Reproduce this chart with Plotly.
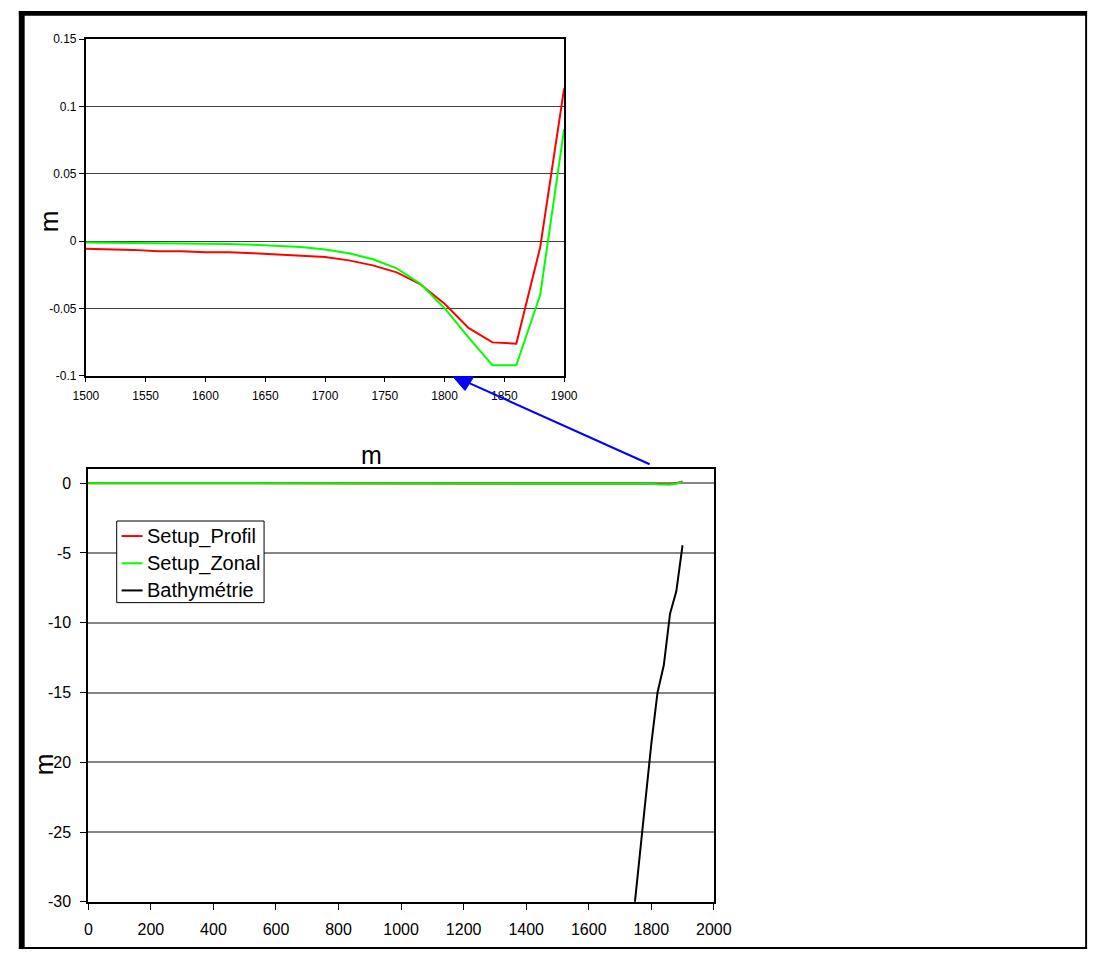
import plotly.graph_objects as go

W, H = 1108, 962

# ---------------- data ----------------
x_far = [0, 100, 200, 300, 400, 500, 600, 700, 800, 900, 1000, 1100, 1200, 1300, 1400]
profil_far = [-0.001, -0.001, -0.0012, -0.0013, -0.0015, -0.0017, -0.0018, -0.002,
              -0.0022, -0.0024, -0.0026, -0.0028, -0.003, -0.0033, -0.0036]
zonal_far = [-0.0002, -0.0002, -0.0002, -0.0003, -0.0003, -0.0003, -0.0004, -0.0004,
             -0.0004, -0.0005, -0.0005, -0.0006, -0.0006, -0.0007, -0.0008]

x_near = [1500, 1520, 1540, 1560, 1580, 1600, 1620, 1640, 1660, 1680, 1700,
          1720, 1740, 1760, 1780, 1800, 1820, 1840, 1860, 1880, 1900]
profil_near = [-0.0055, -0.0056, -0.0065, -0.0075, -0.0075, -0.0083, -0.0083, -0.009,
               -0.0098, -0.0106, -0.0118, -0.0143, -0.018, -0.0232, -0.0322, -0.0465,
               -0.0645, -0.0752, -0.0762, -0.0045, 0.1135]
zonal_near = [-0.0011, -0.0012, -0.0013, -0.0015, -0.0016, -0.0019, -0.0021, -0.0027,
              -0.0034, -0.0044, -0.0062, -0.009, -0.0135, -0.0202, -0.0318, -0.0498,
              -0.0715, -0.0922, -0.0922, -0.0398, 0.0832]

x_bathy = [1720, 1740, 1760, 1780, 1800, 1820, 1840, 1860, 1880, 1900]
bathy = [-36.0, -31.7, -27.4, -23.0, -18.7, -15.0, -13.05, -9.35, -7.75, -4.45]

top_xticks = [1500, 1550, 1600, 1650, 1700, 1750, 1800, 1850, 1900]
top_yticks = [-0.1, -0.05, 0, 0.05, 0.1, 0.15]
top_yticktext = ["-0.1", "-0.05", "0", "0.05", "0.1", "0.15"]
bot_xticks = [0, 200, 400, 600, 800, 1000, 1200, 1400, 1600, 1800, 2000]
bot_yticks = [-30, -25, -20, -15, -10, -5, 0]
bot_yticktext = ["-30", "-25", "-20", "-15", "-10", "-5", "0"]

names = ["Setup_Profil", "Setup_Zonal", "Bathymétrie"]
colors = ["#FF0000", "#00FF00", "#000000"]

FONT = "Liberation Sans, Arial, sans-serif"


def px(x):
    return x / W


def py(y):
    return 1 - y / H


x_all = x_far + x_near
profil_all = profil_far + profil_near
zonal_all = zonal_far + zonal_near

fig = go.Figure()

# top (zoom) chart
fig.add_trace(go.Scatter(x=x_all, y=profil_all, mode="lines", line=dict(color=colors[0], width=2),
                         xaxis="x", yaxis="y", showlegend=False, name=names[0]))
fig.add_trace(go.Scatter(x=x_all, y=zonal_all, mode="lines", line=dict(color=colors[1], width=2),
                         xaxis="x", yaxis="y", showlegend=False, name=names[1]))

# bottom chart
fig.add_trace(go.Scatter(x=x_all, y=profil_all, mode="lines", line=dict(color=colors[0], width=2),
                         xaxis="x2", yaxis="y2", showlegend=False, name=names[0]))
fig.add_trace(go.Scatter(x=x_all, y=zonal_all, mode="lines", line=dict(color=colors[1], width=2),
                         xaxis="x2", yaxis="y2", showlegend=False, name=names[1]))
fig.add_trace(go.Scatter(x=x_bathy, y=bathy, mode="lines", line=dict(color=colors[2], width=2),
                         xaxis="x2", yaxis="y2", showlegend=False, name=names[2]))

axis_common = dict(showline=True, linecolor="black", linewidth=2, mirror=True,
                   ticks="outside", tickcolor="black", zeroline=False)

fig.update_layout(
    width=W, height=H,
    margin=dict(l=0, r=0, t=0, b=0),
    paper_bgcolor="white", plot_bgcolor="white",
    font=dict(family=FONT, color="black"),
    showlegend=False,
    xaxis=dict(domain=[px(75), px(567)], range=[1500, 1900], tickvals=top_xticks,
               ticklen=4, tickwidth=1, showgrid=False, anchor="y",
               tickfont=dict(size=12), ticklabelstandoff=4, **axis_common),
    yaxis=dict(domain=[py(375), py(32.7)], range=[-0.1, 0.15], tickvals=top_yticks,
               ticktext=top_yticktext, ticklen=5, tickwidth=1, showgrid=True,
               gridcolor="#404040", gridwidth=1, anchor="x",
               tickfont=dict(size=12), **axis_common),
    xaxis2=dict(domain=[px(77.5), px(721)], range=[0, 2000], tickvals=bot_xticks,
                ticklen=6, tickwidth=1, showgrid=False, anchor="y2",
                tickfont=dict(size=16), ticklabelstandoff=6, **axis_common),
    yaxis2=dict(domain=[py(910), py(470)], range=[-30, 1], tickvals=bot_yticks,
                ticktext=bot_yticktext, ticklen=6, tickwidth=1, showgrid=True,
                gridcolor="#868686", gridwidth=2, anchor="x2",
                tickfont=dict(size=16), ticklabelstandoff=6, **axis_common),
)

# axis titles as annotations
fig.add_annotation(x=px(37), y=py(218), xref="paper", yref="paper", text="m",
                   showarrow=False, textangle=-90, font=dict(size=26),
                   xanchor="center", yanchor="middle")
fig.add_annotation(x=px(368.5), y=py(455.5), xref="paper", yref="paper", text="m",
                   showarrow=False, font=dict(size=25),
                   xanchor="center", yanchor="middle")
fig.add_annotation(x=px(32), y=py(770), xref="paper", yref="paper", text="m",
                   showarrow=False, textangle=-90, font=dict(size=26),
                   xanchor="center", yanchor="middle")

shapes = []
# legend box (drawn by hand to match the reference proportions)
leg_left, leg_top, leg_right, leg_bottom = 106.7, 522.7, 258.3, 605.7
leg_rows = [538, 565.7, 593.3]
shapes.append(dict(type="rect", xref="paper", yref="paper",
                   x0=px(leg_left), y0=py(leg_bottom), x1=px(leg_right), y1=py(leg_top),
                   fillcolor="white", line=dict(color="black", width=1), layer="above"))
for name, col, ry in zip(names, colors, leg_rows):
    shapes.append(dict(type="line", xref="paper", yref="paper",
                       x0=px(111.7), y0=py(ry), x1=px(133.3), y1=py(ry),
                       line=dict(color=col, width=2), layer="above"))
    fig.add_annotation(x=px(136), y=py(ry), xref="paper", yref="paper", text=name,
                       showarrow=False, font=dict(size=20), xanchor="left", yanchor="middle")

# blue connector arrow
shapes.append(dict(type="line", xref="paper", yref="paper",
                   x0=px(655), y0=py(465), x1=px(466), y1=py(381),
                   line=dict(color="#0000FF", width=2), layer="above"))
shapes.append(dict(type="path", xref="paper", yref="paper",
                   path=f"M {px(452.7)},{py(376)} L {px(474)},{py(376)} L {px(465)},{py(390)} Z",
                   fillcolor="#0000FF", line=dict(color="#0000FF", width=1), layer="above"))
# outer frame
for (x0, y0, x1, y1) in [(6, 4, 1105, 9), (6, 4, 12, 958), (1103, 4, 1105, 958), (6, 956, 1105, 958)]:
    shapes.append(dict(type="rect", xref="paper", yref="paper",
                       x0=px(x0), y0=py(y1), x1=px(x1), y1=py(y0),
                       fillcolor="black", line=dict(width=0), layer="above"))
fig.update_layout(shapes=shapes)

fig.write_html("out.html", config={"displayModeBar": False},
               post_script="document.body.style.margin='0';document.body.style.overflow='hidden';")
